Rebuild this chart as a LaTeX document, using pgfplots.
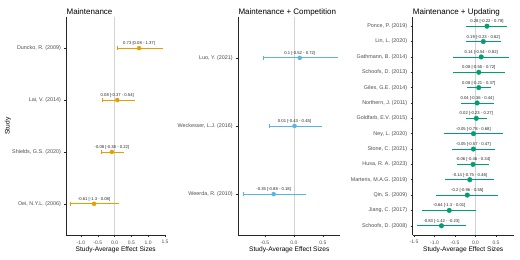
\documentclass[border=0pt]{standalone}
\usepackage{pgfplots}
\usepackage{pgfplotstable}
\pgfplotsset{compat=1.18}
\usepackage{fontspec}
\setmainfont{Liberation Sans}
\definecolor{cA}{HTML}{E69F00}
\definecolor{cB}{HTML}{56B4E9}
\definecolor{cC}{HTML}{009E73}
\definecolor{txt}{HTML}{4D4D4D}
\definecolor{zl}{HTML}{D3D3D3}

\pgfplotstableread[col sep=comma,row sep=\\]{
y,est,low,high,lab\\
4,0.73,0.08,1.37,{0.73 [0.08 - 1.37]}\\
3,0.08,-0.37,0.54,{0.08 [-0.37 - 0.54]}\\
2,-0.08,-0.38,0.22,{-0.08 [-0.38 - 0.22]}\\
1,-0.61,-1.3,0.08,{-0.61 [-1.3 - 0.08]}\\
}\tabA

\pgfplotstableread[col sep=comma,row sep=\\]{
y,est,low,high,lab\\
3,0.1,-0.52,0.72,{0.1 [-0.52 - 0.72]}\\
2,0.01,-0.43,0.45,{0.01 [-0.43 - 0.45]}\\
1,-0.35,-0.88,0.18,{-0.35 [-0.88 - 0.18]}\\
}\tabB

\pgfplotstableread[col sep=comma,row sep=\\]{
y,est,low,high,lab\\
14,0.28,-0.22,0.78,{0.28 [-0.22 - 0.78]}\\
13,0.19,-0.23,0.62,{0.19 [-0.23 - 0.62]}\\
12,0.14,-0.54,0.82,{0.14 [-0.54 - 0.82]}\\
11,0.08,-0.55,0.72,{0.08 [-0.55 - 0.72]}\\
10,0.08,-0.21,0.37,{0.08 [-0.21 - 0.37]}\\
9,0.04,-0.36,0.44,{0.04 [-0.36 - 0.44]}\\
8,0.02,-0.23,0.27,{0.02 [-0.23 - 0.27]}\\
7,-0.05,-0.78,0.68,{-0.05 [-0.78 - 0.68]}\\
6,-0.05,-0.57,0.47,{-0.05 [-0.57 - 0.47]}\\
5,-0.06,-0.46,0.34,{-0.06 [-0.46 - 0.34]}\\
4,-0.14,-0.75,0.46,{-0.14 [-0.75 - 0.46]}\\
3,-0.2,-0.96,0.55,{-0.2 [-0.96 - 0.55]}\\
2,-0.64,-1.3,0.01,{-0.64 [-1.3 - 0.01]}\\
1,-0.83,-1.42,-0.23,{-0.83 [-1.42 - -0.23]}\\
}\tabC

\pgfplotsset{
  fp/.style={
    anchor=south west,
    scale only axis,
    height=218pt,
    ymin=0.4,
    clip=false,
    axis x line*=bottom, axis y line*=left,
    axis line style={black!85, line width=0.6pt},
    tick align=outside, major tick length=2pt,
    tick style={black!85, line width=0.5pt},
    /pgf/number format/assume math mode=true,
    xticklabel style={font=\fontsize{5}{6}\selectfont, text=txt,
       /pgf/number format/.cd, fixed, fixed zerofill, precision=1},
    yticklabel style={font=\fontsize{5.4}{6}\selectfont, text=txt},
    xlabel={Study-Average Effect Sizes},
    xlabel style={font=\fontsize{6.6}{7}\selectfont, at={(axis description cs:0.5,0)}, anchor=base, yshift=-16.5pt},
    every axis title shift=0pt,
    title style={font=\fontsize{8}{9}\selectfont, at={(axis description cs:0,1)}, anchor=base west, yshift=2.6pt, inner sep=0pt},
    nodes near coords style={font=\fontsize{4.2}{5}\selectfont, text=black!85, anchor=base, yshift=3.5pt, inner sep=0pt},
  },
  ci/.style={only marks, mark=|, mark size=2pt, color=#1, line width=0.8pt,
    /pgfplots/error bars/x dir=plus, /pgfplots/error bars/x explicit,
    /pgfplots/error bars/error bar style={line width=0.8pt, color=#1},
    /pgfplots/error bars/error mark options={mark size=2pt, line width=0.8pt, color=#1}},
  pt/.style={only marks, mark=*, mark size=2pt, color=#1,
    nodes near coords, point meta=explicit symbolic},
}

\begin{document}
\begin{tikzpicture}
\useasboundingbox (0,0) rectangle (520pt,260pt);

\begin{axis}[fp, at={(66.4pt,25pt)}, width=98.7pt,
  xmin=-1.4335, xmax=1.5035, ymax=4.6,
  xtick={-1,-0.5,0,0.5,1,1.5},
  ytick={1,2,3,4},
  yticklabels={{Oei, N.Y.L. (2006)},{Shields, G.S. (2020)},{Lai, V. (2014)},{Duncko, R. (2009)}},
  title={Maintenance},
  ylabel={Study},
  ylabel style={font=\fontsize{6.6}{7}\selectfont, at={(axis description cs:-0.592,0.5)}, anchor=center},
]
\addplot[zl, line width=0.7pt, no marks] coordinates {(0,0.4) (0,4.6)};
\addplot[ci=cA] table[x=low, y=y, x error expr=\thisrow{high}-\thisrow{low}] {\tabA};
\addplot[pt=cA] table[x=est, y=y, meta=lab] {\tabA};
\end{axis}

\begin{axis}[fp, at={(238.3pt,25pt)}, width=102pt,
  xmin=-0.96, xmax=0.80, ymax=3.6,
  xtick={-0.5,0,0.5},
  ytick={1,2,3},
  yticklabels={{Weerda, R. (2010)},{Weckesser, L.J. (2016)},{Luo, Y. (2021)}},
  title={Maintenance + Competition},
]
\addplot[zl, line width=0.7pt, no marks] coordinates {(0,0.4) (0,3.6)};
\addplot[ci=cB] table[x=low, y=y, x error expr=\thisrow{high}-\thisrow{low}] {\tabB};
\addplot[pt=cB] table[x=est, y=y, meta=lab] {\tabB};
\end{axis}

\begin{axis}[fp, at={(412.7pt,25pt)}, width=101pt,
  xmin=-1.532, xmax=0.932, ymax=14.6,
  xtick={-1.5,-1,-0.5,0,0.5},
  ytick={1,...,14},
  yticklabels={{Schoofs, D. (2008)},{Jiang, C. (2017)},{Qin, S. (2009)},{Marteris, M.A.G. (2019)},{Husa, R. A. (2023)},{Stone, C. (2021)},{Ney, L. (2020)},{Goldfarb, E.V. (2015)},{Northern, J. (2011)},{Giles, G.E. (2014)},{Schoofs, D. (2013)},{Gathmann, B. (2014)},{Lin, L. (2020)},{Ponce, P. (2019)}},
  title={Maintenance + Updating},
]
\addplot[zl, line width=0.7pt, no marks] coordinates {(0,0.4) (0,14.6)};
\addplot[ci=cC, mark size=0pt, /pgfplots/error bars/error mark=none] table[x=low, y=y, x error expr=\thisrow{high}-\thisrow{low}] {\tabC};
\addplot[pt=cC, mark size=2.3pt] table[x=est, y=y, meta=lab] {\tabC};
\end{axis}
\end{tikzpicture}
\end{document}
